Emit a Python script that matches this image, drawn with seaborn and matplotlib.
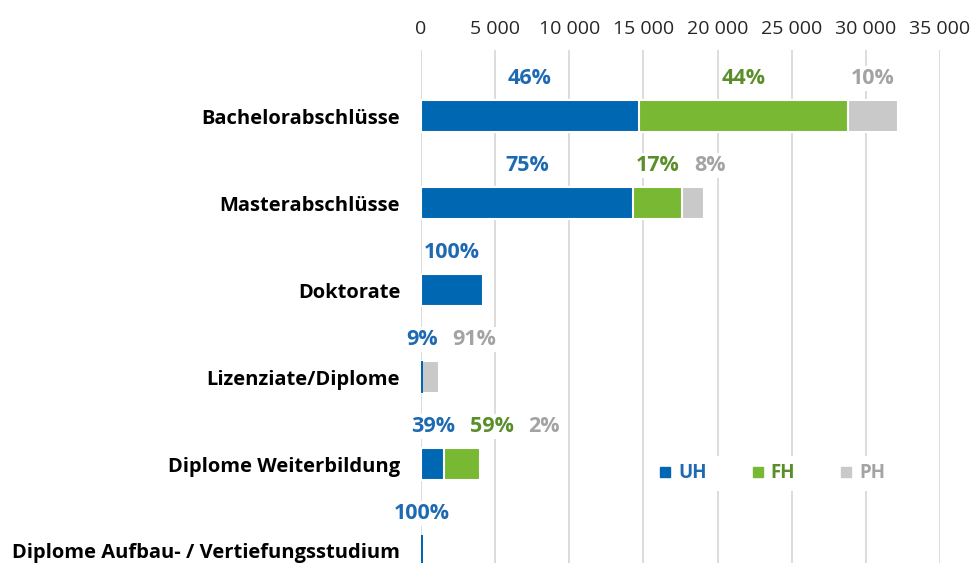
import numpy as np
import pandas as pd
import matplotlib
matplotlib.use("Agg")
import matplotlib.pyplot as plt
import seaborn as sns
from matplotlib.lines import Line2D
from matplotlib.ticker import FuncFormatter, FixedLocator

# ---- data ----
categories = ["Bachelorabschlüsse", "Masterabschlüsse", "Doktorate",
              "Lizenziate/Diplome", "Diplome Weiterbildung",
              "Diplome Aufbau- / Vertiefungsstudium"]
series = ["UH", "FH", "PH"]
uh = [14700, 14300, 4180, 110, 1570, 120]
fh = [14100, 3300, 0, 0, 2380, 0]
ph = [3350, 1480, 0, 1100, 80, 0]
x_ticks = [0, 5000, 10000, 15000, 20000, 25000, 30000, 35000]

bar_colors = {"UH": "#0067B3", "FH": "#78B833", "PH": "#C9C9C9"}
text_colors = {"UH": "#1E6AB2", "FH": "#5A8E2A", "PH": "#A3A3A3"}

sns.set_theme(style="white")
plt.rcParams['font.family'] = ['Open Sans', 'DejaVu Sans']

fig = plt.figure(figsize=(9.76, 5.63), dpi=100)
ax = fig.add_axes([421 / 976, 0, 519 / 976, 513 / 563])

df = pd.DataFrame({"category": categories, "UH": uh, "FH": fh, "PH": ph})
df["c_UH"] = df["UH"]
df["c_FH"] = df["UH"] + df["FH"]
df["c_PH"] = df["c_FH"] + df["PH"]

for s in ["PH", "FH", "UH"]:
    sns.barplot(data=df, y="category", x="c_" + s, orient="h", order=categories,
                color=bar_colors[s], saturation=1, width=0.37,
                edgecolor="white", linewidth=1.5, ax=ax)

for p in ax.patches:
    if p.get_width() < 400:
        p.set_linewidth(0)

ax.set_xlim(0, 35000)
ax.set_ylim(5.138, -0.759)
ax.set_xlabel("")
ax.set_ylabel("")
ax.xaxis.tick_top()
ax.xaxis.set_major_locator(FixedLocator(x_ticks))
ax.xaxis.set_major_formatter(FuncFormatter(lambda v, _: f"{int(v):,}".replace(",", " ")))
ax.tick_params(axis="x", length=0, pad=9, labelsize=14, labelcolor="#262626")
ax.tick_params(axis="y", length=0, pad=15, labelsize=14.5, labelcolor="black")
for lab in ax.get_yticklabels():
    lab.set_fontweight("bold")
ax.grid(axis="x", color="#D9D9D9", linewidth=1.3)
ax.grid(axis="y", visible=False)
ax.set_axisbelow(True)
for sp in ax.spines.values():
    sp.set_visible(False)

# ---- percentage labels ----
fig.canvas.draw()
renderer = fig.canvas.get_renderer()
gap = 15
for i, cat in enumerate(categories):
    vals = {"UH": uh[i], "FH": fh[i], "PH": ph[i]}
    total = sum(vals.values())
    left = 0
    prev_right = -1e9
    for s in series:
        v = vals[s]
        if v <= 0:
            continue
        pct = round(100 * v / total)
        t = ax.text(left + v / 2, i - 0.43, f"{pct}%", ha="center", va="center",
                    color=text_colors[s], fontweight="bold", fontsize=15.5,
                    bbox=dict(facecolor="white", edgecolor="none", pad=1.5))
        w = t.get_window_extent(renderer).width
        cx, cy = ax.transData.transform((left + v / 2, i - 0.43))
        if cx - w / 2 < prev_right + gap:
            cx = prev_right + gap + w / 2
            xd, _ = ax.transData.inverted().transform((cx, cy))
            t.set_x(xd)
        prev_right = cx + w / 2
        left += v

# ---- legend ----
handles = [Line2D([], [], marker="s", linestyle="none", markersize=6.5,
                  color=bar_colors[s]) for s in series]
leg = ax.legend(handles, series, ncol=3, loc="center",
                bbox_to_anchor=(0.675, 0.175), frameon=True,
                facecolor="white", edgecolor="none", framealpha=1,
                handlelength=0.8, handletextpad=0.3, columnspacing=2.3,
                prop={"weight": "bold", "size": 13.5},
                labelcolor=[text_colors[s] for s in series])

fig.savefig("out.png", dpi=100)
